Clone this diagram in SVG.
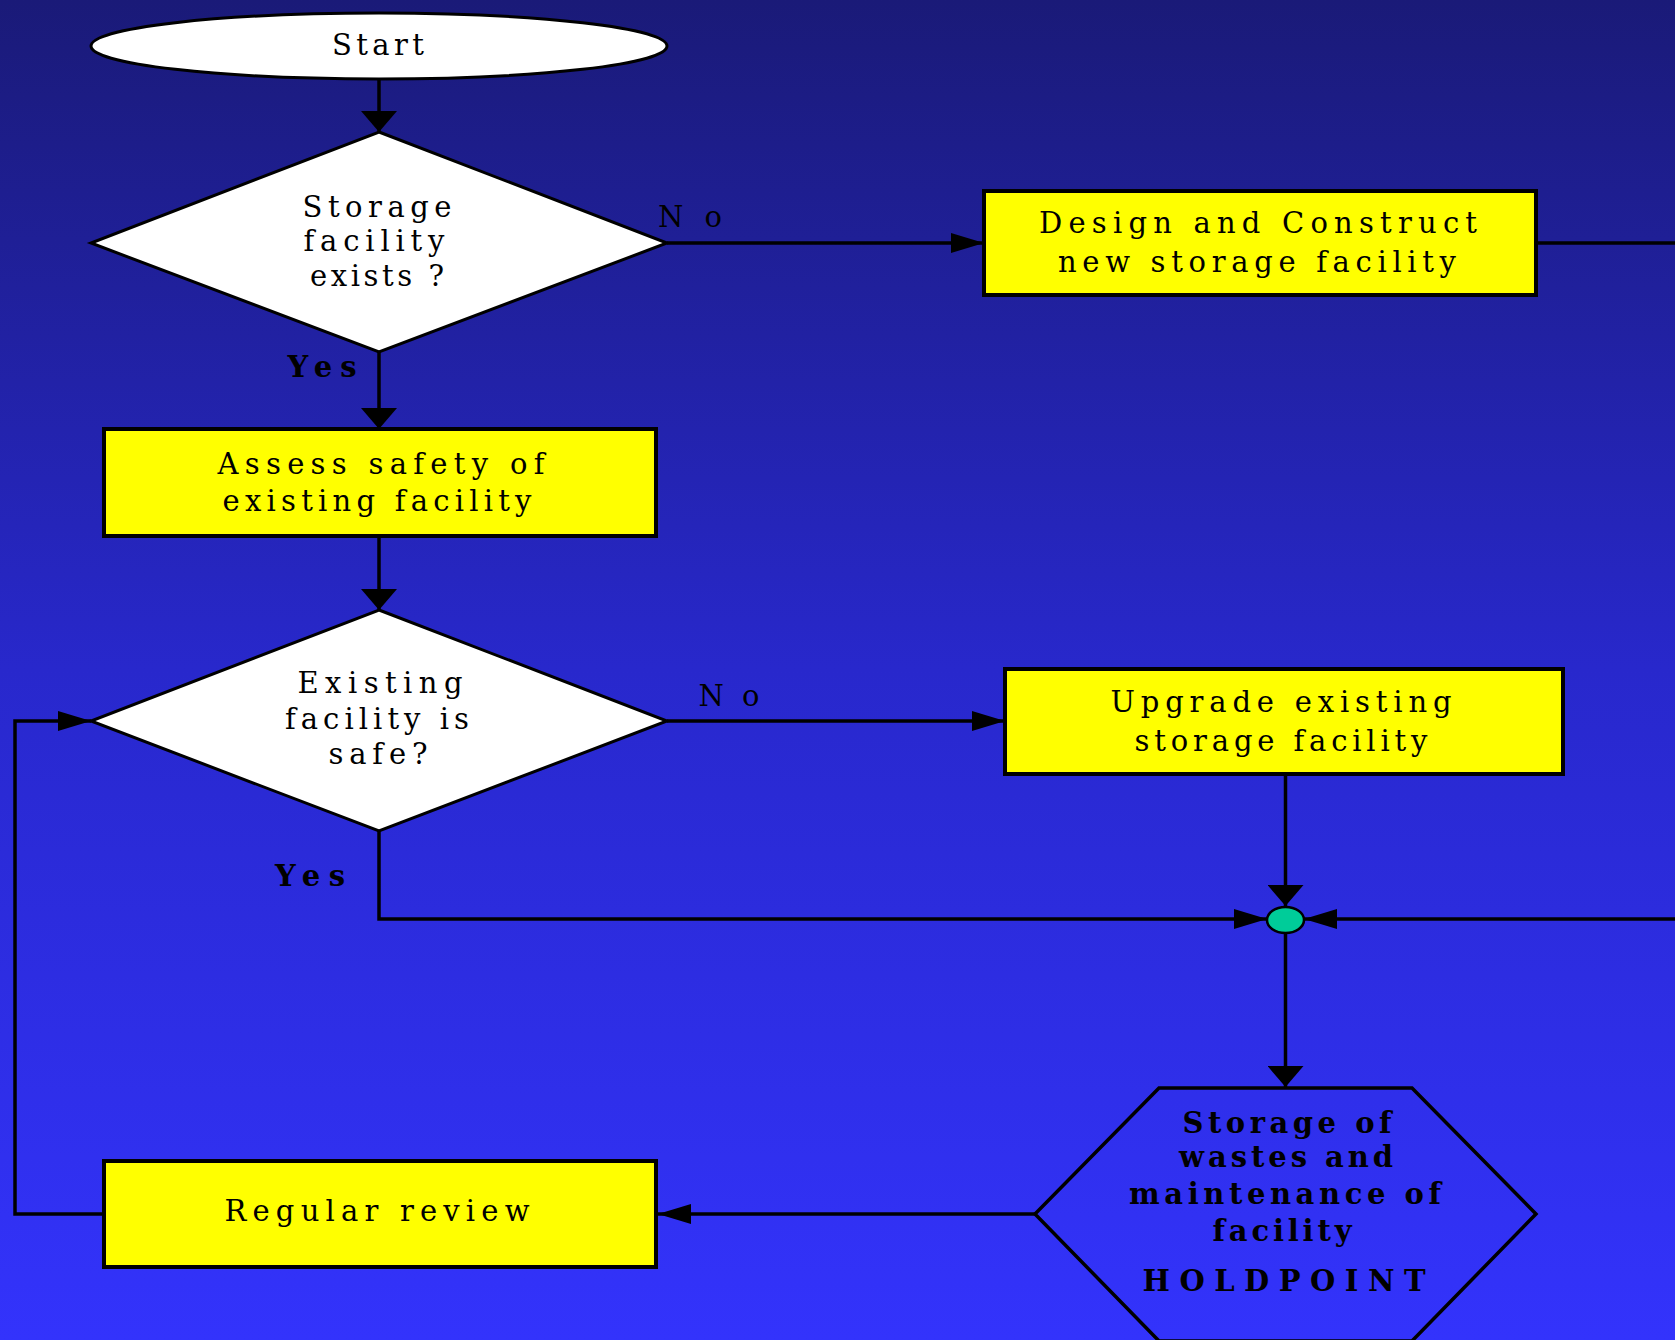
<svg xmlns="http://www.w3.org/2000/svg" width="1675" height="1340" viewBox="0 0 1675 1340">
<style>
.t{font-family:"DejaVu Serif","Liberation Serif",serif;font-size:29px;fill:#000;text-anchor:middle}
.b{font-weight:bold}
.box{fill:#ffff00;stroke:#000;stroke-width:4}
.dec{fill:#fff;stroke:#000;stroke-width:3}
.c{fill:none;stroke:#000;stroke-width:3.5}
</style>
<defs>
<linearGradient id="bg" x1="0" y1="0" x2="0" y2="1">
<stop offset="0" stop-color="#1a1a78"/>
<stop offset="0.5" stop-color="#2828cc"/>
<stop offset="1" stop-color="#3333fc"/>
</linearGradient>
<marker id="arrV" markerUnits="userSpaceOnUse" markerWidth="22" markerHeight="36" refX="21" refY="18" orient="auto" viewBox="0 0 22 36">
<path d="M0,0 L21,18 L0,36 Z" fill="#000"/>
</marker>
<marker id="arrH" markerUnits="userSpaceOnUse" markerWidth="34" markerHeight="20" refX="33" refY="10" orient="auto" viewBox="0 0 34 20">
<path d="M0,0 L33,10 L0,20 Z" fill="#000"/>
</marker>
</defs>
<rect width="1675" height="1340" fill="url(#bg)"/>

<g id="connectors">
<line class="c" x1="379" y1="78" x2="379" y2="132" marker-end="url(#arrV)"/>
<line class="c" x1="379" y1="352" x2="379" y2="429" marker-end="url(#arrV)"/>
<line class="c" x1="379" y1="536" x2="379" y2="610" marker-end="url(#arrV)"/>
<line class="c" x1="667" y1="243" x2="984" y2="243" marker-end="url(#arrH)"/>
<line class="c" x1="1536" y1="243" x2="1675" y2="243"/>
<line class="c" x1="667" y1="721" x2="1005" y2="721" marker-end="url(#arrH)"/>
<line class="c" x1="1285.5" y1="774" x2="1285.5" y2="906" marker-end="url(#arrV)"/>
<polyline class="c" points="379,831 379,919 1267,919" marker-end="url(#arrH)"/>
<line class="c" x1="1675" y1="919" x2="1304" y2="919" marker-end="url(#arrH)"/>
<line class="c" x1="1285.5" y1="933" x2="1285.5" y2="1087" marker-end="url(#arrV)"/>
<line class="c" x1="1035" y1="1214" x2="658" y2="1214" marker-end="url(#arrH)"/>
<polyline class="c" points="104,1214 15,1214 15,721 91,721" marker-end="url(#arrH)"/>
<text class="t" x="690" y="227" font-size="30" textLength="64" lengthAdjust="spacing">No</text>
<text class="t b" x="322" y="377" font-size="29" textLength="69" lengthAdjust="spacing">Yes</text>
<text class="t" x="729" y="706" font-size="30" textLength="61" lengthAdjust="spacing">No</text>
<text class="t b" x="310" y="886" font-size="29" textLength="70" lengthAdjust="spacing">Yes</text>
</g>

<g id="start">
<ellipse class="dec" cx="379" cy="46" rx="288" ry="33"/>
<text class="t" x="378" y="55" font-size="30" textLength="92" lengthAdjust="spacing">Start</text>
</g>

<g id="storage-exists">
<polygon class="dec" points="379,132 667,243 379,352 91,243"/>
<text class="t" x="377" y="217" textLength="149" lengthAdjust="spacing">Storage</text>
<text class="t" x="374" y="251" textLength="141" lengthAdjust="spacing">facility</text>
<text class="t" x="377" y="286" textLength="134" lengthAdjust="spacing">exists ?</text>
</g>

<g id="design-construct">
<rect class="box" x="984" y="191" width="552" height="104"/>
<text class="t" x="1258" y="233" font-size="27" textLength="438" lengthAdjust="spacing">Design and Construct</text>
<text class="t" x="1257" y="272" font-size="27" textLength="398" lengthAdjust="spacing">new storage facility</text>
</g>

<g id="assess-safety">
<rect class="box" x="104" y="429" width="552" height="107"/>
<text class="t" x="381" y="474" textLength="327" lengthAdjust="spacing">Assess safety of</text>
<text class="t" x="377" y="511" textLength="309" lengthAdjust="spacing">existing facility</text>
</g>

<g id="facility-safe">
<polygon class="dec" points="379,610 667,721 379,831 91,721"/>
<text class="t" x="380" y="693" textLength="165" lengthAdjust="spacing">Existing</text>
<text class="t" x="377" y="729" textLength="184" lengthAdjust="spacing">facility is</text>
<text class="t" x="378" y="764" textLength="99" lengthAdjust="spacing">safe?</text>
</g>

<g id="upgrade">
<rect class="box" x="1005" y="669" width="558" height="105"/>
<text class="t" x="1281" y="712" textLength="341" lengthAdjust="spacing">Upgrade existing</text>
<text class="t" x="1281" y="751" textLength="293" lengthAdjust="spacing">storage facility</text>
</g>

<g id="junction">
<ellipse cx="1285.5" cy="920" rx="18.5" ry="13" fill="#00cc99" stroke="#000" stroke-width="2.5"/>
</g>

<g id="storage-holdpoint">
<polygon points="1159,1088 1412,1088 1536,1214 1412,1341 1159,1341 1035,1214" fill="none" stroke="#000" stroke-width="3.5"/>
<text class="t b" x="1287" y="1133" textLength="209" lengthAdjust="spacing">Storage of</text>
<text class="t b" x="1286" y="1167" textLength="214" lengthAdjust="spacing">wastes and</text>
<text class="t b" x="1285" y="1204" textLength="312" lengthAdjust="spacing">maintenance of</text>
<text class="t b" x="1282" y="1241" textLength="139" lengthAdjust="spacing">facility</text>
<text class="t b" x="1284" y="1291" font-size="30" textLength="283" lengthAdjust="spacing">HOLDPOINT</text>
</g>

<g id="regular-review">
<rect class="box" x="104" y="1161" width="552" height="106"/>
<text class="t" x="377" y="1221" textLength="305" lengthAdjust="spacing">Regular review</text>
</g>
</svg>
